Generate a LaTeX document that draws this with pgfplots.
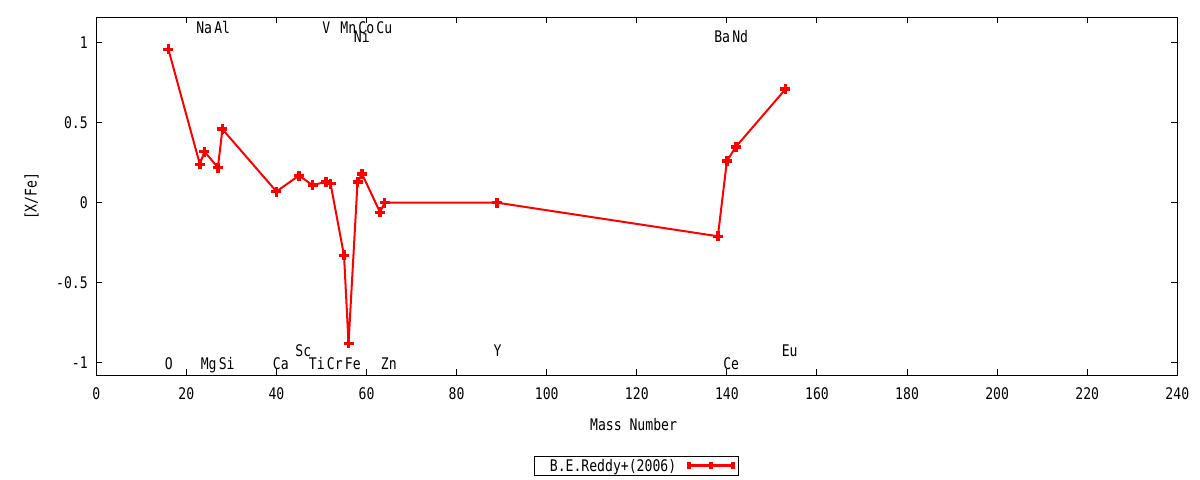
\documentclass[border=0pt]{standalone}
\usepackage{fontspec}
\setmainfont{DejaVu Sans Mono}[FakeStretch=0.82]
\usepackage{pgfplots}
\usepackage{pgfplotstable}
\pgfplotsset{compat=1.18}

% [X/Fe] against mass number
\pgfplotstableread{
mass xfe
16  0.96
23  0.24
24  0.32
27  0.22
28  0.46
40  0.07
45  0.17
48  0.11
51  0.13
52  0.12
55 -0.33
56 -0.88
58  0.13
59  0.18
63 -0.06
64  0.00
89  0.00
138 -0.21
140 0.26
142 0.35
153 0.71
}\reddy

% element names (baseline heights as in the figure)
\pgfplotstableread{
mass y label
16  -1.045 O
23  1.06 Na
24  -1.045 Mg
27  1.06 Al
28  -1.045 Si
40  -1.045 Ca
45  -0.96 Sc
48  -1.045 Ti
51  1.06 V
52  -1.045 Cr
55  1.06 Mn
56  -1.045 Fe
58  1.0 Ni
59  1.06 Co
63  1.06 Cu
64  -1.045 Zn
89  -0.96 Y
138 1.0 Ba
140 -1.045 Ce
142 1.0 Nd
153 -0.96 Eu
}\elements

\begin{document}
\begin{tikzpicture}[font=\fontsize{16bp}{19bp}\selectfont]
\begin{axis}[
    scale only axis,
    width=1081bp,
    height=358bp,
    xmin=0, xmax=240,
    ymin=-1.08, ymax=1.16,
    xtick={0,20,...,240},
    ytick={-1,-0.5,0,0.5,1},
    yticklabels={-1,-0.5,0,0.5,1},
    tick align=inside,
    major tick length=6bp,
    axis line style={line width=1bp},
    every tick/.style={black, line width=1bp},
    xticklabel style={yshift=-9bp},
    yticklabel style={xshift=-5bp},
    /pgf/number format/assume math mode=true,
    xlabel={Mass Number},
    ylabel={[X/Fe]},
    xlabel style={at={(axis description cs:0.497,-0.138)}, anchor=center},
    ylabel style={at={(axis description cs:-0.0598,0.5)}, anchor=center},
    legend plot pos=right,
    legend style={at={(axis description cs:0.5,-0.2528)}, anchor=center,
        draw=black, line width=0.8bp, inner xsep=4bp, inner ysep=1bp,
        font=\fontsize{16bp}{19bp}\selectfont,
        /tikz/every odd column/.append style={column sep=9bp}},
    legend image code/.code={
        \draw[red, line width=3bp] (0bp,0bp) -- (44bp,0bp);
        \draw[red, line width=3.5bp] (0bp,-3.5bp) -- (0bp,3.5bp)
            (22bp,-3.5bp) -- (22bp,3.5bp) (44bp,-3.5bp) -- (44bp,3.5bp);
    },
]
\addplot[red, line width=2bp, mark=+, mark size=5bp,
    mark options={line width=3.5bp}] table[x=mass, y=xfe] {\reddy};
\addlegendentry{\hspace{9bp}B.E.Reddy+(2006)}

\addplot[draw=none, mark=none, forget plot,
    nodes near coords, point meta=explicit symbolic,
    nodes near coords style={anchor=base west, inner sep=0pt,
        xshift=-3.8bp, text=black}]
    table[x=mass, y=y, meta=label] {\elements};
\end{axis}
\path[use as bounding box] (-96.3bp,-104.7bp) rectangle (1103.7bp,375.3bp);
\end{tikzpicture}
\end{document}
